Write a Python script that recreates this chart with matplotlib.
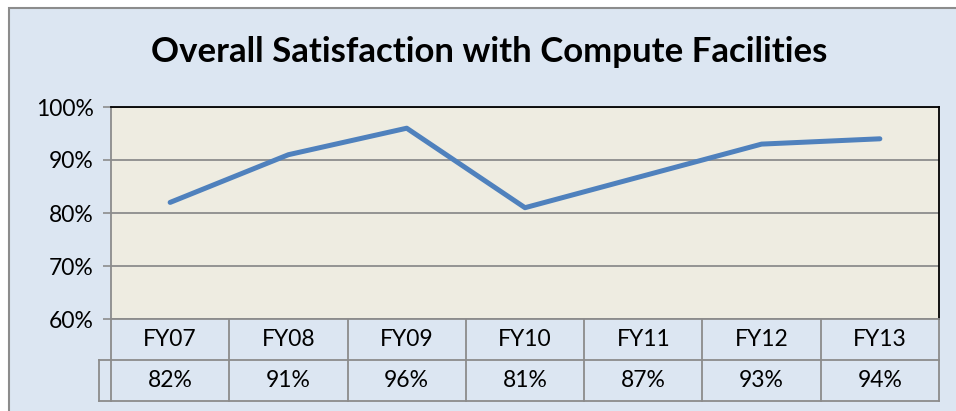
import matplotlib
matplotlib.use("Agg")
import matplotlib.pyplot as plt
from matplotlib.patches import Rectangle
from matplotlib.lines import Line2D

categories = ["FY07", "FY08", "FY09", "FY10", "FY11", "FY12", "FY13"]
values = [82, 91, 96, 81, 87, 93, 94]
value_labels = ["82%", "91%", "96%", "81%", "87%", "93%", "94%"]
y_ticks = [60, 70, 80, 90, 100]
y_tick_labels = ["60%", "70%", "80%", "90%", "100%"]
title = "Overall Satisfaction with Compute Facilities"

plt.rcParams['font.family'] = ['Lato', 'DejaVu Sans']

W, H = 956, 411
fig = plt.figure(figsize=(W / 100, H / 100), dpi=100)
fig.patch.set_facecolor('white')

# outer chart area
bg = Rectangle((9 / W, -0.05), 1.0, 1.05 - 8 / H, transform=fig.transFigure,
               facecolor='#dce6f2', edgecolor='#8c8c8c', linewidth=1.5, zorder=-10)
fig.patches.append(bg)

x0, x1 = 111, 939
y_top, y_bot = 107, 319
ax = fig.add_axes([x0 / W, 1 - y_bot / H, (x1 - x0) / W, (y_bot - y_top) / H])
ax.set_facecolor('#eeece1')

fs = 16.5
n = len(categories)
xs = list(range(n))
ax.plot(xs, values, color='#4f81bd', linewidth=3.6, solid_capstyle='round',
        solid_joinstyle='round', zorder=3)
ax.set_xlim(-0.5, n - 0.5)
ax.set_ylim(60, 100)
ax.set_yticks(y_ticks)
ax.set_yticklabels(y_tick_labels, fontsize=fs)
ax.set_xticks([])
ax.tick_params(axis='y', direction='out', length=6, width=1.2, color='#8c8c8c', pad=6.5)
ax.yaxis.grid(True, color='#8c8c8c', linewidth=1.3)
ax.set_axisbelow(True)
for s in ['top', 'right']:
    ax.spines[s].set_color('black')
    ax.spines[s].set_linewidth(1.3)
ax.spines['left'].set_color('#8c8c8c')
ax.spines['left'].set_linewidth(1.3)
ax.spines['bottom'].set_color('#8c8c8c')
ax.spines['bottom'].set_linewidth(1.3)

# data table below the axes
ph = y_bot - y_top
r1 = 41 / ph
r2 = 82 / ph
trans = ax.get_xaxis_transform()
gc = '#8c8c8c'
lw = 1.3

def ln(xd, yd):
    l = Line2D(xd, yd, transform=trans, color=gc, linewidth=lw, clip_on=False)
    ax.add_line(l)

# vertical lines
for i in range(n + 1):
    xv = i - 0.5
    ln([xv, xv], [0, -r2])
# horizontal lines
ln([-0.5, n - 0.5], [-r1, -r1])
ln([-0.5, n - 0.5], [-r2, -r2])
# extra left cell in value row
cell_w = 12 / ((x1 - x0) / n)
ln([-0.5 - cell_w, -0.5], [-r1, -r1])
ln([-0.5 - cell_w, -0.5], [-r2, -r2])
ln([-0.5 - cell_w, -0.5 - cell_w], [-r1, -r2])

for i, (c, v) in enumerate(zip(categories, value_labels)):
    ax.text(i, -r1 / 2, c, transform=trans, ha='center', va='center', fontsize=fs)
    ax.text(i, -(r1 + r2) / 2, v, transform=trans, ha='center', va='center', fontsize=fs)

fig.text(489 / W, 1 - 52 / H, title, ha='center', va='center', fontsize=25,
         fontweight='bold')

fig.savefig('out.png', dpi=100, facecolor=fig.get_facecolor())
